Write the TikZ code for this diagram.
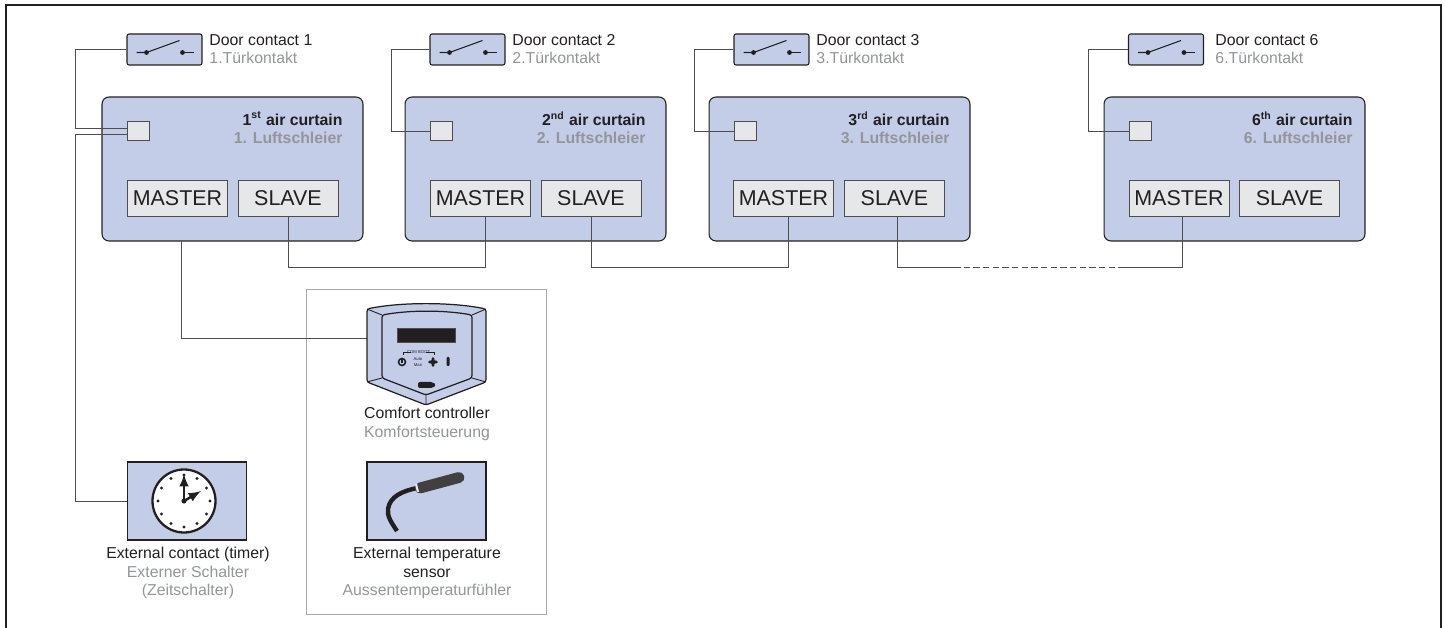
\documentclass[tikz,border=0pt]{standalone}
\usepackage{fontspec}
\setmainfont{Liberation Sans}
\definecolor{wire}{HTML}{4D4D4D}
\definecolor{ink}{HTML}{231F20}
\definecolor{fade}{HTML}{939598}
\definecolor{panel}{HTML}{C3CDE8}
\definecolor{keybg}{HTML}{E6E7E8}
\begin{document}
\begin{tikzpicture}[x=0.02cm,y=-0.02cm,line join=miter]
\useasboundingbox (0,0) rectangle (1445,628);
\fontsize{9}{10.3}\selectfont
\begin{scope}[wire,line width=0.55pt,
              curtain/.style={rectangle,draw=ink,line width=0.6pt,fill=panel,rounded corners=0.14cm,minimum width=5.22cm,minimum height=2.88cm},
              door/.style={rectangle,draw=ink,line width=0.6pt,fill=panel,rounded corners=0.04cm,minimum width=1.5cm,minimum height=0.62cm},
              sensein/.style={rectangle,draw=wire,fill=keybg,minimum width=0.44cm,minimum height=0.38cm},
              unitkey/.style={rectangle,draw=wire,fill=keybg,text=ink,inner sep=0,minimum width=2cm,minimum height=0.72cm,font=\fontsize{12.2}{15}\selectfont},
              panelbox/.style={rectangle,draw=ink,line width=0.6pt,fill=panel,minimum width=2.38cm,minimum height=1.56cm},
              tag/.style={align=left,anchor=west,inner sep=0,text=ink},
              tagc/.style={align=center,anchor=north,inner sep=0,text=ink},
              tagr/.style={align=right,anchor=north east,inner sep=0,text=ink,font=\bfseries},
              doorsym/.pic={
                \draw [ink,line width=0.6pt] (-28,3) -- (-18,3) -- (15,-9);
                \draw [ink,line width=0.6pt] (18,3) -- (29,3);
                \fill [ink] (-18,3) circle (2.4);
                \fill [ink] (18,3) circle (2.4);
              }]
    \draw [ink,line width=1.1pt] (6,628) -- (6,5) -- (1441,5) -- (1441,628);

    \node [door] (door1) at (164.5,49.5) {};
    \node [door] (door2) at (467.5,49.5) {};
    \node [door] (door3) at (771.5,49.5) {};
    \node [door] (door6) at (1166,49.5) {};
    \pic at (door1) {doorsym};
    \pic at (door2) {doorsym};
    \pic at (door3) {doorsym};
    \pic at (door6) {doorsym};
    \node [tag] (doortag1) at (209,49.5) {Door contact 1\\{\color{fade}1.Türkontakt}};
    \node [tag] (doortag2) at (512,49.5) {Door contact 2\\{\color{fade}2.Türkontakt}};
    \node [tag] (doortag3) at (816,49.5) {Door contact 3\\{\color{fade}3.Türkontakt}};
    \node [tag] (doortag6) at (1215,49.5) {Door contact 6\\{\color{fade}6.Türkontakt}};

    \node [curtain] (unit1) at (232.5,169) {};
    \node [curtain] (unit2) at (535.5,169) {};
    \node [curtain] (unit3) at (839.5,169) {};
    \node [curtain] (unit6) at (1234.5,169) {};
    \node [tagr] (unittag1) at (343,111) {1\textsuperscript{st} air curtain\\{\color{fade}1. Luftschleier}};
    \node [tagr] (unittag2) at (646,111) {2\textsuperscript{nd} air curtain\\{\color{fade}2. Luftschleier}};
    \node [tagr] (unittag3) at (950,111) {3\textsuperscript{rd} air curtain\\{\color{fade}3. Luftschleier}};
    \node [tagr] (unittag6) at (1353,111) {6\textsuperscript{th} air curtain\\{\color{fade}6. Luftschleier}};

    \node [sensein] (in1) at (138.5,131) {};
    \node [sensein] (in2) at (441.5,131) {};
    \node [sensein] (in3) at (745.5,131) {};
    \node [sensein] (in6) at (1140,131) {};
    \node [unitkey] (master1) at (177.5,198) {MASTER};
    \node [unitkey] (slave1) at (288,198) {SLAVE};
    \node [unitkey] (master2) at (480.5,198) {MASTER};
    \node [unitkey] (slave2) at (591,198) {SLAVE};
    \node [unitkey] (master3) at (783.5,198) {MASTER};
    \node [unitkey] (slave3) at (894.5,198) {SLAVE};
    \node [unitkey] (master6) at (1179,198) {MASTER};
    \node [unitkey] (slave6) at (1289.5,198) {SLAVE};

    \node [panelbox] (clock) at (187,501) {};
    \node [panelbox] (probe) at (426.5,501) {};
    \node [tagc] (clocktag) at (188,547) {External contact (timer)\\{\color{fade}Externer Schalter}\\{\color{fade}(Zeitschalter)}};
    \node [tagc] (probetag) at (427,547) {External temperature\\sensor\\{\color{fade}Aussentemperaturfühler}};
    \node [tagc] (comforttag) at (427,407) {Comfort controller\\{\color{fade}Komfortsteuerung}};
    \node [draw=fade!80,line width=0.55pt,minimum width=4.82cm,minimum height=6.52cm,inner sep=0] (optbox) at (426.5,452) {};

    \coordinate (comfort) at (367,338);
    \draw (door1.west) -- (75,49.5) |- (in1.west |- 0,128);
    \draw (clock.west) -- (75,501) |- (in1.west |- 0,134);
    \draw (door2.west) -- (391,49.5) |- (in2.west);
    \draw (door3.west) -- (694,49.5) |- (in3.west);
    \draw (door6.west) -- (1088,49.5) |- (in6.west);
    \draw (181,241) |- (comfort);
    \draw (slave1.south) -- (288,267) -| (485,216);
    \draw (slave2.south) -- (591,267) -| (788,216);
    \draw (897,216) -- (897,267) -- (954,267);
    \draw [dash pattern=on 3.7pt off 1.8pt] (954,267) -- (1125,267);
    \draw (1125,267) -| (1182,216);

    \draw [ink,line width=0.7pt,fill=panel,rounded corners=0.05cm] (367,309) .. controls (400,302) and (452,302) .. (486,309) -- (486,382) -- (426,405) -- (367,382) -- cycle;
    \draw [ink,line width=0.7pt,fill=panel,rounded corners=0.05cm] (382,315) .. controls (410,310) and (444,310) .. (472,315) -- (472,378) -- (426,395) -- (382,378) -- cycle;
    \draw [ink,line width=0.5pt] (367,309) -- (382,315) (486,309) -- (472,315) (486,382) -- (472,378) (367,382) -- (382,378) (426,395) -- (426,405);
    \draw [wire,fill=ink,line width=0.5pt] (397,328) rectangle (455,342);
    \draw [ink,line width=0.5pt] (403,355) -- (403,352) -- (411,352) (426,352) -- (434,352) -- (434,355);
    \node [ink,inner sep=0,font=\fontsize{2.4}{2.4}\selectfont] (comboot) at (418.5,352) {COM BOOT};
    \draw [ink,line width=0.9pt] (402,362) circle (3.5);
    \draw [ink,line width=0.7pt] (402,359) -- (402,363);
    \node [ink,inner sep=0,align=center,font=\fontsize{2.4}{3}\selectfont] (automan) at (418,362) {Auto\\Man};
    \fill [ink] (433,362) ellipse (5 and 1.8) (433,362) ellipse (1.8 and 5);
    \fill [ink,rounded corners=0.02cm] (446.5,357) rectangle (449.5,366);
    \fill [ink,rounded corners=0.04cm] (418,382) -- (433,382) -- (436,385) -- (433,388) -- (418,388) -- cycle;

    \coordinate (clockhub) at (184,501);
    \draw [ink,fill=white,line width=1.3pt] (clockhub) circle (31.5);
    \fill [ink] (clockhub)
       +(0:26) circle (1.7) +(30:26) circle (1.7) +(60:26) circle (1.7) +(90:26) circle (1.7)
       +(120:26) circle (1.7) +(150:26) circle (1.7) +(180:26) circle (1.7) +(210:26) circle (1.7)
       +(240:26) circle (1.7) +(270:26) circle (1.7) +(300:26) circle (1.7) +(330:26) circle (1.7);
    \draw [ink,line width=1.4pt,-latex] (clockhub) -- (184,474);
    \draw [ink,line width=1.4pt,-latex] (clockhub) -- (201,491);
    \fill [ink] (clockhub) circle (2.6);

    \coordinate (probetip) at (417,488);
    \draw [ink,line width=2.5pt] (397,531) .. controls (391,522) and (387,516) .. (388,509) .. controls (390,496) and (403,491) .. (probetip);
    \draw [black!75,line width=6.2pt,line cap=round] (420,488) -- (459,477.5);
    \draw [keybg,line width=1.2pt] (416,484) -- (418,492);
\end{scope}
\end{tikzpicture}
\end{document}
